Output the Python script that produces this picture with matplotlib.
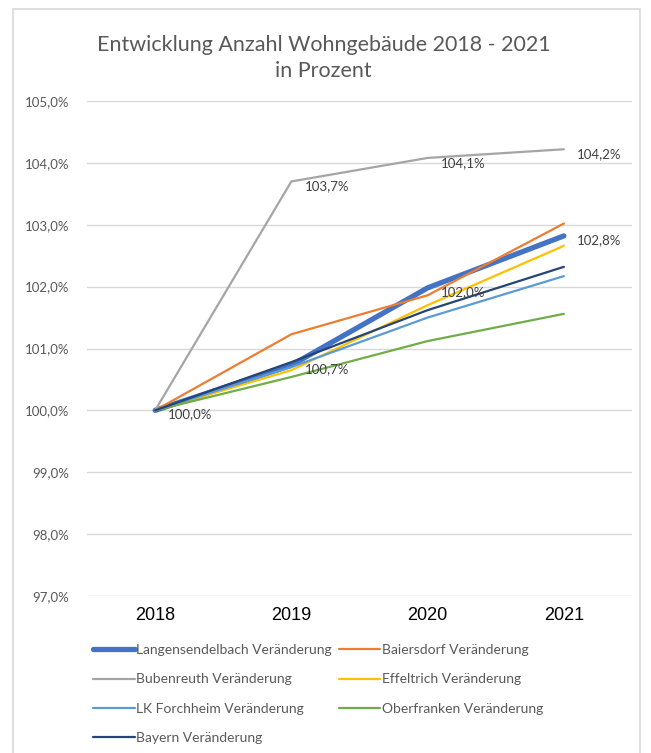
import matplotlib
matplotlib.use("Agg")
import matplotlib.pyplot as plt
from matplotlib.patches import Rectangle

years = ["2018", "2019", "2020", "2021"]
langensendelbach = [100.0, 100.73, 101.98, 102.82]
baiersdorf = [100.0, 101.23, 101.86, 103.02]
bubenreuth = [100.0, 103.70, 104.08, 104.22]
effeltrich = [100.0, 100.65, 101.70, 102.66]
lk_forchheim = [100.0, 100.70, 101.50, 102.17]
oberfranken = [100.0, 100.54, 101.12, 101.56]
bayern = [100.0, 100.78, 101.62, 102.32]

series_names = ["Langensendelbach Veränderung", "Baiersdorf Veränderung",
                "Bubenreuth Veränderung", "Effeltrich Veränderung",
                "LK Forchheim Veränderung", "Oberfranken Veränderung",
                "Bayern Veränderung"]
lang_labels = ["100,0%", "100,7%", "102,0%", "102,8%"]
buben_labels = ["", "103,7%", "104,1%", "104,2%"]
y_ticks = [97, 98, 99, 100, 101, 102, 103, 104, 105]

colors = ["#4472C4", "#ED7D31", "#A5A5A5", "#FFC000", "#5B9BD5", "#70AD47", "#264478"]
widths = [3.8, 1.6, 1.6, 1.6, 1.6, 1.6, 1.6]
data = [langensendelbach, baiersdorf, bubenreuth, effeltrich, lk_forchheim, oberfranken, bayern]

plt.rcParams['font.family'] = ['Lato', 'DejaVu Sans']

fig = plt.figure(figsize=(6.51, 7.53), dpi=100)
fig.patches.append(Rectangle((13/651, -0.05), (640-13)/651, 1.05 - 9/753, transform=fig.transFigure,
                             fill=False, edgecolor="#D9D9D9", linewidth=1.2))

ax = fig.add_axes([87/651, 1 - 596/753, 545/651, 495/753])
x = list(range(len(years)))
handles = []
for vals, name, c, w in zip(data, series_names, colors, widths):
    h, = ax.plot(x, vals, color=c, linewidth=w, label=name, solid_capstyle='round')
    handles.append(h)

for xi, v, t in zip(x, langensendelbach, lang_labels):
    ax.annotate(t, (xi, v), xytext=(13, -4), textcoords='offset pixels',
                ha='left', va='center', fontsize=9.5, color="#404040")
for xi, v, t in zip(x, bubenreuth, buben_labels):
    if t:
        ax.annotate(t, (xi, v), xytext=(13, -5), textcoords='offset pixels',
                    ha='left', va='center', fontsize=9.5, color="#404040")

ax.set_xlim(-0.5, 3.5)
ax.set_ylim(97, 105)
ax.set_yticks(y_ticks)
ax.set_yticklabels([f"{v:.1f}".replace(".", ",") + "%" for v in y_ticks])
ax.set_xticks(x)
ax.set_xticklabels(years, fontfamily="Liberation Sans", fontsize=13)
ax.tick_params(axis='y', length=0, pad=13, labelsize=9.5, labelcolor="#595959")
ax.tick_params(axis='x', length=0, pad=8, labelcolor="#000000")
ax.grid(axis='y', color="#D9D9D9", linewidth=1)
ax.set_axisbelow(True)
for s in ax.spines.values():
    s.set_visible(False)

fig.text(0.497, 1 - 45/753, "Entwicklung Anzahl Wohngebäude 2018 - 2021", ha='center', va='center',
         fontsize=15.5, color="#595959")
fig.text(0.497, 1 - 71/753, "in Prozent", ha='center', va='center', fontsize=15.5, color="#595959")

order = [0, 2, 4, 6, 1, 3, 5]
leg = fig.legend([handles[i] for i in order], [series_names[i] for i in order],
                 loc='upper left', bbox_to_anchor=(93/651, 1 - 644/753), ncol=2,
                 frameon=False, fontsize=10, handlelength=3.0, handletextpad=0.1,
                 columnspacing=0.5, labelspacing=1.25, borderpad=0, borderaxespad=0)
for t in leg.get_texts():
    t.set_color("#595959")

fig.savefig("out.png", dpi=100)
